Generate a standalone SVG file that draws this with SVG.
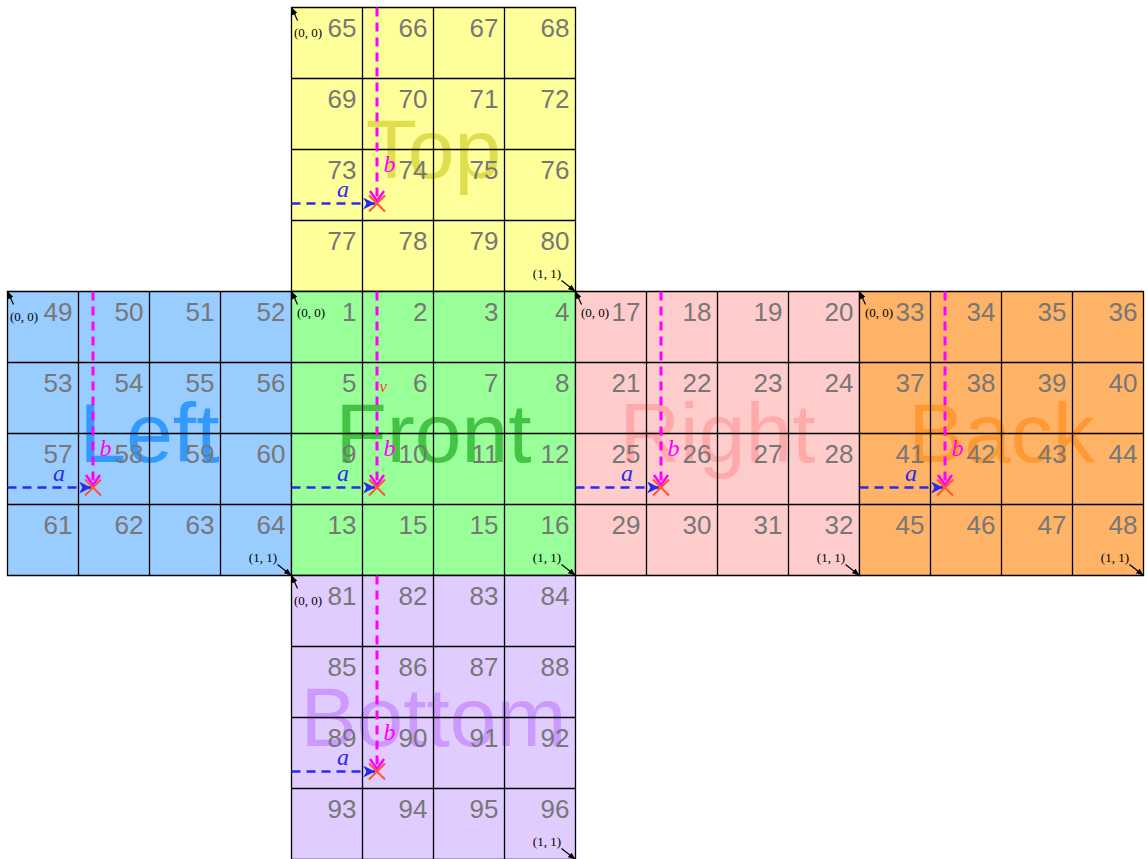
<svg xmlns="http://www.w3.org/2000/svg" width="1147" height="859" viewBox="0 0 1147 859">
<style>
.g{fill:none;stroke:#000;stroke-width:1.3}
.n{font-family:"Liberation Sans",Arial,sans-serif;font-size:26px;fill:#777;text-anchor:end}
.lab{font-family:"Liberation Sans",Arial,sans-serif;font-size:84px;text-anchor:middle}
.c{font-family:"Liberation Serif","Times New Roman",serif;font-size:13px;fill:#000}
.ce{font-family:"Liberation Serif","Times New Roman",serif;font-size:13px;fill:#000;text-anchor:end}
.ca{stroke:#000;stroke-width:1.2;marker-end:url(#ka)}
.da{stroke:#2a2af0;stroke-width:2.5;stroke-dasharray:9 6;fill:none;marker-end:url(#ba)}
.db{stroke:#ff00ff;stroke-width:3;stroke-dasharray:9 6;fill:none;marker-end:url(#ma)}
.ta{font-family:"Liberation Serif","Times New Roman",serif;font-style:italic;font-size:24px;fill:#2a2af0;text-anchor:middle}
.tb{font-family:"Liberation Serif","Times New Roman",serif;font-style:italic;font-size:24px;fill:#ff00ff}
.x{stroke:#ff5533;stroke-width:2}
</style>
<defs>
<marker id="ka" markerUnits="userSpaceOnUse" markerWidth="7" markerHeight="6" refX="7" refY="3" orient="auto"><path d="M0,0 L7,3 L0,6 z" fill="#000"/></marker>
<marker id="ba" markerUnits="userSpaceOnUse" markerWidth="14" markerHeight="12" refX="12" refY="6" orient="auto"><path d="M0,0 L12,6 L0,12 L3.5,6 z" fill="#2a2af0"/></marker>
<marker id="ma" markerUnits="userSpaceOnUse" markerWidth="14" markerHeight="18" refX="11" refY="8" orient="auto"><path d="M1,1 L11,8 L1,15" fill="none" stroke="#ff00ff" stroke-width="2.5"/></marker>
</defs>

<g id="top">
<rect x="291.5" y="7.5" width="284" height="284" fill="#ffff99"/>
<text class="lab" x="433.5" y="177.5" fill="#dede4e">Top</text>
<path class="g" d="M291.5,7.5h284v284h-284z M362.5,7.5v284 M433.5,7.5v284 M504.5,7.5v284 M291.5,78.5h284 M291.5,149.5h284 M291.5,220.5h284"/>
<text class="n" x="356.5" y="36.5">65</text><text class="n" x="427.5" y="36.5">66</text><text class="n" x="498.5" y="36.5">67</text><text class="n" x="569.5" y="36.5">68</text>
<text class="n" x="356.5" y="107.5">69</text><text class="n" x="427.5" y="107.5">70</text><text class="n" x="498.5" y="107.5">71</text><text class="n" x="569.5" y="107.5">72</text>
<text class="n" x="356.5" y="178.5">73</text><text class="n" x="427.5" y="178.5">74</text><text class="n" x="498.5" y="178.5">75</text><text class="n" x="569.5" y="178.5">76</text>
<text class="n" x="356.5" y="249.5">77</text><text class="n" x="427.5" y="249.5">78</text><text class="n" x="498.5" y="249.5">79</text><text class="n" x="569.5" y="249.5">80</text>
<text class="c" x="294" y="36.5">(0, 0)</text>
<text class="ce" x="561" y="277.5">(1, 1)</text>
</g>

<g id="left">
<rect x="7.5" y="291.5" width="284" height="284" fill="#99ccff"/>
<text class="lab" x="149.5" y="461.5" fill="#3399ff">Left</text>
<path class="g" d="M7.5,291.5h284v284h-284z M78.5,291.5v284 M149.5,291.5v284 M220.5,291.5v284 M7.5,362.5h284 M7.5,433.5h284 M7.5,504.5h284"/>
<text class="n" x="72.5" y="320.5">49</text><text class="n" x="143.5" y="320.5">50</text><text class="n" x="214.5" y="320.5">51</text><text class="n" x="285.5" y="320.5">52</text>
<text class="n" x="72.5" y="391.5">53</text><text class="n" x="143.5" y="391.5">54</text><text class="n" x="214.5" y="391.5">55</text><text class="n" x="285.5" y="391.5">56</text>
<text class="n" x="72.5" y="462.5">57</text><text class="n" x="143.5" y="462.5">58</text><text class="n" x="214.5" y="462.5">59</text><text class="n" x="285.5" y="462.5">60</text>
<text class="n" x="72.5" y="533.5">61</text><text class="n" x="143.5" y="533.5">62</text><text class="n" x="214.5" y="533.5">63</text><text class="n" x="285.5" y="533.5">64</text>
<text class="c" x="10" y="320.5">(0, 0)</text>
<text class="ce" x="277" y="561.5">(1, 1)</text>
</g>

<g id="front">
<rect x="291.5" y="291.5" width="284" height="284" fill="#99ff99"/>
<text class="lab" x="433.5" y="461.5" fill="#44c444">Front</text>
<path class="g" d="M291.5,291.5h284v284h-284z M362.5,291.5v284 M433.5,291.5v284 M504.5,291.5v284 M291.5,362.5h284 M291.5,433.5h284 M291.5,504.5h284"/>
<text class="n" x="356.5" y="320.5">1</text><text class="n" x="427.5" y="320.5">2</text><text class="n" x="498.5" y="320.5">3</text><text class="n" x="569.5" y="320.5">4</text>
<text class="n" x="356.5" y="391.5">5</text><text class="n" x="427.5" y="391.5">6</text><text class="n" x="498.5" y="391.5">7</text><text class="n" x="569.5" y="391.5">8</text>
<text class="n" x="356.5" y="462.5">9</text><text class="n" x="427.5" y="462.5">10</text><text class="n" x="498.5" y="462.5">11</text><text class="n" x="569.5" y="462.5">12</text>
<text class="n" x="356.5" y="533.5">13</text><text class="n" x="427.5" y="533.5">15</text><text class="n" x="498.5" y="533.5">15</text><text class="n" x="569.5" y="533.5">16</text>
<text class="c" x="297" y="316.5">(0, 0)</text>
<text class="ce" x="561" y="561.5">(1, 1)</text>
<text x="379.5" y="392" font-family="Liberation Serif, serif" font-style="italic" font-size="17" fill="#ff4422">v</text>
</g>

<g id="right">
<rect x="575.5" y="291.5" width="284" height="284" fill="#ffcccc"/>
<text class="lab" x="717.5" y="461.5" fill="#ffaaaa">Right</text>
<path class="g" d="M575.5,291.5h284v284h-284z M646.5,291.5v284 M717.5,291.5v284 M788.5,291.5v284 M575.5,362.5h284 M575.5,433.5h284 M575.5,504.5h284"/>
<text class="n" x="640.5" y="320.5">17</text><text class="n" x="711.5" y="320.5">18</text><text class="n" x="782.5" y="320.5">19</text><text class="n" x="853.5" y="320.5">20</text>
<text class="n" x="640.5" y="391.5">21</text><text class="n" x="711.5" y="391.5">22</text><text class="n" x="782.5" y="391.5">23</text><text class="n" x="853.5" y="391.5">24</text>
<text class="n" x="640.5" y="462.5">25</text><text class="n" x="711.5" y="462.5">26</text><text class="n" x="782.5" y="462.5">27</text><text class="n" x="853.5" y="462.5">28</text>
<text class="n" x="640.5" y="533.5">29</text><text class="n" x="711.5" y="533.5">30</text><text class="n" x="782.5" y="533.5">31</text><text class="n" x="853.5" y="533.5">32</text>
<text class="c" x="581" y="316.5">(0, 0)</text>
<text class="ce" x="845" y="561.5">(1, 1)</text>
</g>

<g id="back">
<rect x="859.5" y="291.5" width="284" height="284" fill="#ffb366"/>
<text class="lab" x="1001.5" y="461.5" fill="#ff9933">Back</text>
<path class="g" d="M859.5,291.5h284v284h-284z M930.5,291.5v284 M1001.5,291.5v284 M1072.5,291.5v284 M859.5,362.5h284 M859.5,433.5h284 M859.5,504.5h284"/>
<text class="n" x="924.5" y="320.5">33</text><text class="n" x="995.5" y="320.5">34</text><text class="n" x="1066.5" y="320.5">35</text><text class="n" x="1137.5" y="320.5">36</text>
<text class="n" x="924.5" y="391.5">37</text><text class="n" x="995.5" y="391.5">38</text><text class="n" x="1066.5" y="391.5">39</text><text class="n" x="1137.5" y="391.5">40</text>
<text class="n" x="924.5" y="462.5">41</text><text class="n" x="995.5" y="462.5">42</text><text class="n" x="1066.5" y="462.5">43</text><text class="n" x="1137.5" y="462.5">44</text>
<text class="n" x="924.5" y="533.5">45</text><text class="n" x="995.5" y="533.5">46</text><text class="n" x="1066.5" y="533.5">47</text><text class="n" x="1137.5" y="533.5">48</text>
<text class="c" x="865" y="316.5">(0, 0)</text>
<text class="ce" x="1129" y="561.5">(1, 1)</text>
</g>

<g id="bottom">
<rect x="291.5" y="575.5" width="284" height="284" fill="#e0ccff"/>
<text class="lab" x="433.5" y="745.5" fill="#cc99ff">Bottom</text>
<path class="g" d="M291.5,575.5h284v284h-284z M362.5,575.5v284 M433.5,575.5v284 M504.5,575.5v284 M291.5,646.5h284 M291.5,717.5h284 M291.5,788.5h284"/>
<text class="n" x="356.5" y="604.5">81</text><text class="n" x="427.5" y="604.5">82</text><text class="n" x="498.5" y="604.5">83</text><text class="n" x="569.5" y="604.5">84</text>
<text class="n" x="356.5" y="675.5">85</text><text class="n" x="427.5" y="675.5">86</text><text class="n" x="498.5" y="675.5">87</text><text class="n" x="569.5" y="675.5">88</text>
<text class="n" x="356.5" y="746.5">89</text><text class="n" x="427.5" y="746.5">90</text><text class="n" x="498.5" y="746.5">91</text><text class="n" x="569.5" y="746.5">92</text>
<text class="n" x="356.5" y="817.5">93</text><text class="n" x="427.5" y="817.5">94</text><text class="n" x="498.5" y="817.5">95</text><text class="n" x="569.5" y="817.5">96</text>
<text class="c" x="294" y="604.5">(0, 0)</text>
<text class="ce" x="561" y="845.5">(1, 1)</text>
</g>

<g id="connectors">
<line class="ca" x1="297.5" y1="20.5" x2="291.8" y2="7.8"/>
<line class="ca" x1="561.5" y1="280.5" x2="575.2" y2="291.2"/>
<line class="ca" x1="13.5" y1="304.5" x2="7.8" y2="291.8"/>
<line class="ca" x1="277.5" y1="564.5" x2="291.2" y2="575.2"/>
<line class="ca" x1="297.5" y1="304.5" x2="291.8" y2="291.8"/>
<line class="ca" x1="561.5" y1="564.5" x2="575.2" y2="575.2"/>
<line class="ca" x1="581.5" y1="304.5" x2="575.8" y2="291.8"/>
<line class="ca" x1="845.5" y1="564.5" x2="859.2" y2="575.2"/>
<line class="ca" x1="865.5" y1="304.5" x2="859.8" y2="291.8"/>
<line class="ca" x1="1129.5" y1="564.5" x2="1143.2" y2="575.2"/>
<line class="ca" x1="297.5" y1="588.5" x2="291.8" y2="575.8"/>
<line class="ca" x1="561.5" y1="848.5" x2="575.2" y2="859.2"/>

<line class="db" x1="377" y1="7.5" x2="377" y2="201"/>
<line class="da" x1="291.5" y1="203.5" x2="375" y2="203.5"/>
<path class="x" d="M369,195.5 L385,211.5 M385,195.5 L369,211.5"/>
<text class="ta" x="343" y="196.5">a</text>
<text class="tb" x="383.5" y="172">b</text>

<line class="db" x1="93" y1="291.5" x2="93" y2="485"/>
<line class="da" x1="7.5" y1="487.5" x2="91" y2="487.5"/>
<path class="x" d="M85,479.5 L101,495.5 M101,479.5 L85,495.5"/>
<text class="ta" x="59" y="480.5">a</text>
<text class="tb" x="99.5" y="456">b</text>

<line class="db" x1="377" y1="291.5" x2="377" y2="485"/>
<line class="da" x1="291.5" y1="487.5" x2="375" y2="487.5"/>
<path class="x" d="M369,479.5 L385,495.5 M385,479.5 L369,495.5"/>
<text class="ta" x="343" y="480.5">a</text>
<text class="tb" x="383.5" y="456">b</text>

<line class="db" x1="661" y1="291.5" x2="661" y2="485"/>
<line class="da" x1="575.5" y1="487.5" x2="659" y2="487.5"/>
<path class="x" d="M653,479.5 L669,495.5 M669,479.5 L653,495.5"/>
<text class="ta" x="627" y="480.5">a</text>
<text class="tb" x="667.5" y="456">b</text>

<line class="db" x1="945" y1="291.5" x2="945" y2="485"/>
<line class="da" x1="859.5" y1="487.5" x2="943" y2="487.5"/>
<path class="x" d="M937,479.5 L953,495.5 M953,479.5 L937,495.5"/>
<text class="ta" x="911" y="480.5">a</text>
<text class="tb" x="951.5" y="456">b</text>

<line class="db" x1="377" y1="575.5" x2="377" y2="769"/>
<line class="da" x1="291.5" y1="771.5" x2="375" y2="771.5"/>
<path class="x" d="M369,763.5 L385,779.5 M385,763.5 L369,779.5"/>
<text class="ta" x="343" y="764.5">a</text>
<text class="tb" x="383.5" y="740">b</text>
</g>
</svg>
